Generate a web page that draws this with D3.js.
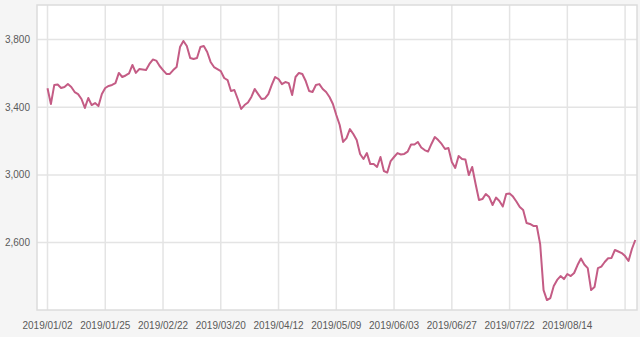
<!DOCTYPE html>
<html lang="en">
<head>
    <meta charset="UTF-8">
    <title>Price line</title>
    <script src="https://d3js.org/d3.v7.min.js"></script>
    <style>
        body { margin: 0; background: #f5f5f5; }
        .grid line { stroke: #e4e4e4; stroke-width: 1.5px; }
        .tick-label { font: 10px "Liberation Sans", sans-serif; fill: #5a5a5a; }
        .line { fill: none; stroke: #c45c85; stroke-width: 2px; stroke-linejoin: round; }
    </style>
</head>
<body>
    <script>
        // trading days, Jan to mid Sep 2019
        var dates = [
            "2019/01/02","2019/01/03","2019/01/04","2019/01/07","2019/01/08","2019/01/09","2019/01/10","2019/01/11",
            "2019/01/14","2019/01/15","2019/01/16","2019/01/17","2019/01/18","2019/01/21","2019/01/22","2019/01/23",
            "2019/01/24","2019/01/25","2019/01/28","2019/01/29","2019/01/30","2019/01/31",
            "2019/02/01","2019/02/07","2019/02/08","2019/02/11","2019/02/12","2019/02/13","2019/02/14","2019/02/15",
            "2019/02/18","2019/02/19","2019/02/20","2019/02/21","2019/02/22","2019/02/25","2019/02/26","2019/02/27","2019/02/28",
            "2019/03/04","2019/03/05","2019/03/06","2019/03/07","2019/03/08","2019/03/11","2019/03/12","2019/03/13",
            "2019/03/14","2019/03/15","2019/03/18","2019/03/19","2019/03/20","2019/03/21","2019/03/22","2019/03/25",
            "2019/03/26","2019/03/27","2019/03/28","2019/03/29",
            "2019/04/01","2019/04/02","2019/04/03","2019/04/04","2019/04/05","2019/04/08","2019/04/09","2019/04/10",
            "2019/04/11","2019/04/12","2019/04/15","2019/04/16","2019/04/17","2019/04/18","2019/04/19","2019/04/22",
            "2019/04/23","2019/04/24","2019/04/25","2019/04/26","2019/04/29","2019/04/30",
            "2019/05/02","2019/05/03","2019/05/07","2019/05/08","2019/05/09","2019/05/10","2019/05/13","2019/05/14",
            "2019/05/15","2019/05/16","2019/05/17","2019/05/20","2019/05/21","2019/05/22","2019/05/23","2019/05/24",
            "2019/05/27","2019/05/28","2019/05/29","2019/05/30","2019/05/31",
            "2019/06/03","2019/06/04","2019/06/05","2019/06/07","2019/06/10","2019/06/11","2019/06/12","2019/06/13",
            "2019/06/14","2019/06/17","2019/06/18","2019/06/19","2019/06/20","2019/06/21","2019/06/24","2019/06/25",
            "2019/06/26","2019/06/27","2019/06/28",
            "2019/07/01","2019/07/02","2019/07/03","2019/07/04","2019/07/05","2019/07/08","2019/07/09","2019/07/10",
            "2019/07/11","2019/07/12","2019/07/15","2019/07/16","2019/07/17","2019/07/18","2019/07/19","2019/07/22",
            "2019/07/23","2019/07/24","2019/07/25","2019/07/26","2019/07/29","2019/07/30","2019/07/31",
            "2019/08/01","2019/08/02","2019/08/05","2019/08/06","2019/08/07","2019/08/08","2019/08/09","2019/08/12",
            "2019/08/13","2019/08/14","2019/08/16","2019/08/19","2019/08/20","2019/08/21","2019/08/22","2019/08/23",
            "2019/08/26","2019/08/27","2019/08/28","2019/08/29","2019/08/30",
            "2019/09/02","2019/09/03","2019/09/04","2019/09/05","2019/09/06","2019/09/09","2019/09/10","2019/09/11","2019/09/16"
        ];

        var prices = [
            3512, 3419, 3532, 3535, 3514, 3520, 3537, 3520, 3490, 3478, 3449, 3396, 3455, 3413, 3425, 3407,
            3478, 3514, 3526, 3532, 3543, 3603, 3579, 3588, 3600, 3650, 3603, 3626, 3623, 3620, 3656, 3682,
            3676, 3644, 3620, 3597, 3597, 3620, 3638, 3756, 3792, 3762, 3691, 3685, 3691, 3756, 3762, 3727,
            3668, 3638, 3626, 3614, 3573, 3561, 3496, 3502, 3449, 3390, 3413, 3428, 3461, 3508, 3478, 3449,
            3452, 3478, 3532, 3579, 3567, 3537, 3549, 3543, 3472, 3579, 3603, 3597, 3555, 3496, 3490, 3532,
            3537, 3508, 3490, 3461, 3419, 3354, 3295, 3195, 3218, 3271, 3242, 3206, 3124, 3094, 3129, 3064,
            3064, 3047, 3106, 3023, 3014, 3082, 3106, 3129, 3121, 3124, 3138, 3180, 3180, 3195, 3162, 3147,
            3138, 3183, 3224, 3206, 3183, 3153, 3159, 3076, 3041, 3112, 3094, 3091, 2999, 3047, 2946, 2852,
            2857, 2887, 2869, 2822, 2866, 2846, 2813, 2887, 2890, 2872, 2843, 2810, 2792, 2716, 2710, 2698,
            2698, 2591, 2319, 2260, 2272, 2343, 2379, 2402, 2384, 2414, 2402, 2420, 2467, 2506, 2470, 2449,
            2319, 2337, 2449, 2458, 2485, 2507, 2509, 2556, 2547, 2538, 2520, 2491, 2562, 2615
        ];

        var yTicks = [2600, 3000, 3400, 3800];
        var xTickDates = ["2019/01/02", "2019/01/25", "2019/02/22", "2019/03/20", "2019/04/12",
                          "2019/05/09", "2019/06/03", "2019/06/27", "2019/07/22", "2019/08/14", "2019/09/09"];
        // last tick gets a grid line only (label would run off the page)
        var xLabelDates = xTickDates.slice(0, 10);

        var width = 640, height = 337;
        var plot = { left: 37, right: 637, top: 5, bottom: 310 };

        var x = d3.scalePoint()
            .domain(dates)
            .range([47.5, 635.3]);

        var y = d3.scaleLinear()
            .domain([2200, 4000])
            .range([310.2, 5.8]);

        var svg = d3.select("body").append("svg")
            .attr("width", width)
            .attr("height", height);

        svg.append("rect")
            .attr("x", plot.left)
            .attr("y", plot.top)
            .attr("width", plot.right - plot.left)
            .attr("height", plot.bottom - plot.top)
            .attr("fill", "#fff");

        var grid = svg.append("g").attr("class", "grid");

        grid.selectAll(".vx")
            .data(xTickDates)
            .enter().append("line")
            .attr("x1", d => x(d)).attr("x2", d => x(d))
            .attr("y1", plot.top).attr("y2", plot.bottom);

        grid.selectAll(".hy")
            .data(yTicks)
            .enter().append("line")
            .attr("x1", plot.left).attr("x2", plot.right)
            .attr("y1", d => y(d)).attr("y2", d => y(d));

        svg.append("rect")
            .attr("x", plot.left)
            .attr("y", plot.top)
            .attr("width", plot.right - plot.left)
            .attr("height", plot.bottom - plot.top)
            .attr("fill", "none")
            .attr("stroke", "#dcdcdc")
            .attr("stroke-width", 1.5);

        var line = d3.line()
            .x((d, i) => x(dates[i]))
            .y(d => y(d));

        svg.append("path")
            .datum(prices)
            .attr("class", "line")
            .attr("d", line);

        var fmt = d3.format(",");

        svg.selectAll(".ylab")
            .data(yTicks)
            .enter().append("text")
            .attr("class", "tick-label")
            .attr("x", 30)
            .attr("y", d => y(d))
            .attr("dy", "0.35em")
            .attr("text-anchor", "end")
            .text(d => fmt(d));

        svg.selectAll(".xlab")
            .data(xLabelDates)
            .enter().append("text")
            .attr("class", "tick-label")
            .attr("x", d => x(d))
            .attr("y", 325)
            .attr("dy", "0.35em")
            .attr("text-anchor", "middle")
            .text(d => d);
    </script>
</body>
</html>
